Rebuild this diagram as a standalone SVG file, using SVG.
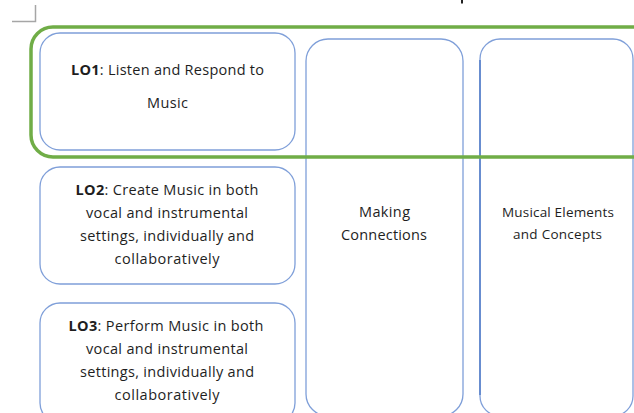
<svg xmlns="http://www.w3.org/2000/svg" width="634" height="413" viewBox="0 0 634 413">
<style>
  .box { fill: #ffffff; stroke: #7F9FD9; stroke-width: 1.3; }
  .t { font-family: "Open Sans", "Liberation Sans", sans-serif; font-size: 14.5px; fill: #1e1e1e; text-anchor: middle; }
  .ts { font-size: 13.5px; }
  .b { font-weight: bold; }
  .hl { fill: none; stroke: #70AD47; stroke-width: 3.5; }
  .mark { fill: none; stroke: #A6A6A6; stroke-width: 1.5; }
</style>
<rect width="634" height="413" fill="#ffffff"/>
<path class="mark" d="M12 21.5 H35.5 V5"/>
<rect x="461" y="0" width="2" height="3.5" fill="#222222"/>

<g id="lo1">
  <rect class="box" x="40" y="33" width="255" height="117" rx="20" ry="20"/>
  <text class="t" x="167.5" y="75" textLength="193" lengthAdjust="spacing"><tspan class="b">LO1</tspan>: Listen and Respond to</text>
  <text class="t" x="167.5" y="108" textLength="41" lengthAdjust="spacing">Music</text>
</g>

<g id="lo2">
  <rect class="box" x="40" y="167" width="255" height="117" rx="20" ry="20"/>
  <text class="t" x="167" y="195" textLength="183" lengthAdjust="spacing"><tspan class="b">LO2</tspan>: Create Music in both</text>
  <text class="t" x="167" y="218" textLength="162" lengthAdjust="spacing">vocal and instrumental</text>
  <text class="t" x="167" y="241" textLength="174" lengthAdjust="spacing">settings, individually and</text>
  <text class="t" x="167" y="264" textLength="105" lengthAdjust="spacing">collaboratively</text>
</g>

<g id="lo3">
  <rect class="box" x="40" y="303" width="255" height="120" rx="20" ry="20"/>
  <text class="t" x="166" y="331" textLength="195" lengthAdjust="spacing"><tspan class="b">LO3</tspan>: Perform Music in both</text>
  <text class="t" x="167" y="354" textLength="162" lengthAdjust="spacing">vocal and instrumental</text>
  <text class="t" x="167" y="377" textLength="174" lengthAdjust="spacing">settings, individually and</text>
  <text class="t" x="167" y="400" textLength="105" lengthAdjust="spacing">collaboratively</text>
</g>

<g id="making-connections">
  <rect class="box" x="306" y="39" width="157" height="377" rx="22" ry="22"/>
  <text class="t" x="384.5" y="217" textLength="51" lengthAdjust="spacing">Making</text>
  <text class="t" x="384" y="240" textLength="86" lengthAdjust="spacing">Connections</text>
</g>

<g id="musical-elements">
  <rect class="box" x="480" y="39" width="153" height="377" rx="20" ry="20"/>
  <line x1="480" y1="60" x2="480" y2="395" stroke="#4472C4" stroke-width="1.3"/>
  <text class="t ts" x="558" y="217" textLength="112" lengthAdjust="spacing">Musical Elements</text>
  <text class="t ts" x="557.5" y="239" textLength="89" lengthAdjust="spacing">and Concepts</text>
</g>

<g id="highlight-lo1">
  <rect class="hl" x="31" y="27" width="640" height="130" rx="22" ry="22"/>
</g>

<g id="connectors"></g>
</svg>
